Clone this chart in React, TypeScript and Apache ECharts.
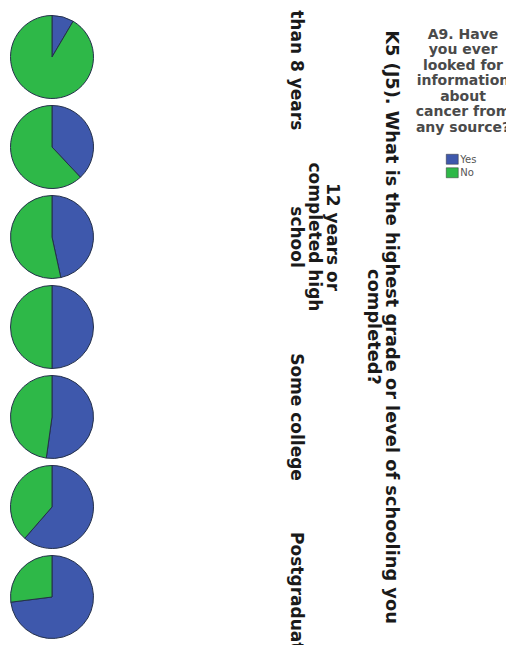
import React, { useEffect, useRef } from "react";
import * as echarts from "echarts";

// Share answering "Yes" / "No" within each schooling level (percent)
const yesPct = [8.5, 38, 46.6, 50, 52.2, 61.4, 73];
const noPct = [91.5, 62, 53.4, 50, 47.8, 38.6, 27];

// Category labels (SPSS drops every other one where they would overlap)
const categoryLabels = [
  "Less than 8 years",
  "",
  "12 years or\ncompleted high\nschool",
  "",
  "Some college",
  "",
  "Postgraduate",
];

const answerNames = ["Yes", "No"];
const answerColors = ["#3E58AC", "#2EB848"];

const axisTitle =
  "K5 (J5). What is the highest grade or level of schooling you\ncompleted?";
const legendTitle =
  "A9. Have\nyou ever\nlooked for\ninformation\nabout\ncancer from\nany source?";

const FONT = "'DejaVu Sans', sans-serif";

export default function App() {
  const ref = useRef<HTMLDivElement>(null);

  useEffect(() => {
    document.documentElement.style.overflow = "hidden";
    const chart = echarts.init(ref.current!, null, { renderer: "svg" });

    const pieX = 44;
    const firstY = 49;
    const step = 90;
    const radius = 41.5;
    // the first label is pushed toward the chart edge so it stays in view
    const edgeLabelShift = -11;

    const series: any[] = yesPct.map((yes, i) => ({
      type: "pie",
      center: [pieX, firstY + i * step],
      radius: [0, radius],
      startAngle: 90,
      clockwise: true,
      silent: true,
      label: { show: false },
      labelLine: { show: false },
      itemStyle: { borderColor: "#24304a", borderWidth: 1 },
      data: [
        { name: answerNames[0], value: yes, itemStyle: { color: answerColors[0] } },
        { name: answerNames[1], value: noPct[i], itemStyle: { color: answerColors[1] } },
      ],
    }));

    const labelTexts: any[] = categoryLabels
      .map((t, i) => ({ t, i }))
      .filter((d) => d.t !== "")
      .map(({ t, i }) => ({
        type: "text",
        x: 280,
        y: firstY + i * step + (i === 0 ? edgeLabelShift : 0),
        rotation: -Math.PI / 2,
        style: {
          text: t,
          fill: "#1a1a1a",
          font: `bold 17px ${FONT}`,
          align: "center",
          verticalAlign: "bottom",
          lineHeight: 18,
        },
      }));

    chart.setOption({
      animation: false,
      color: answerColors,
      legend: {
        orient: "vertical",
        left: 433,
        top: 141,
        itemWidth: 12,
        itemHeight: 10,
        itemGap: 3,
        icon: "rect",
        selectedMode: false,
        data: answerNames,
        itemStyle: { borderColor: "#333", borderWidth: 0.5 },
        textStyle: { fontFamily: FONT, fontSize: 10, color: "#555", padding: [0, 0, 0, -3] },
      },
      series,
      graphic: [
        ...labelTexts,
        {
          type: "text",
          x: 357,
          y: firstY + 3 * step,
          rotation: -Math.PI / 2,
          style: {
            text: axisTitle,
            fill: "#1a1a1a",
            font: `bold 17.8px ${FONT}`,
            align: "center",
            verticalAlign: "bottom",
            lineHeight: 18,
          },
        },
        {
          type: "text",
          x: 455,
          y: 18,
          style: {
            text: legendTitle,
            fill: "#4a4a4a",
            font: `bold 14px ${FONT}`,
            align: "center",
            verticalAlign: "top",
            lineHeight: 15.5,
          },
        },
      ],
    });

    return () => chart.dispose();
  }, []);

  return <div ref={ref} style={{ width: 506, height: 637 }} />;
}
